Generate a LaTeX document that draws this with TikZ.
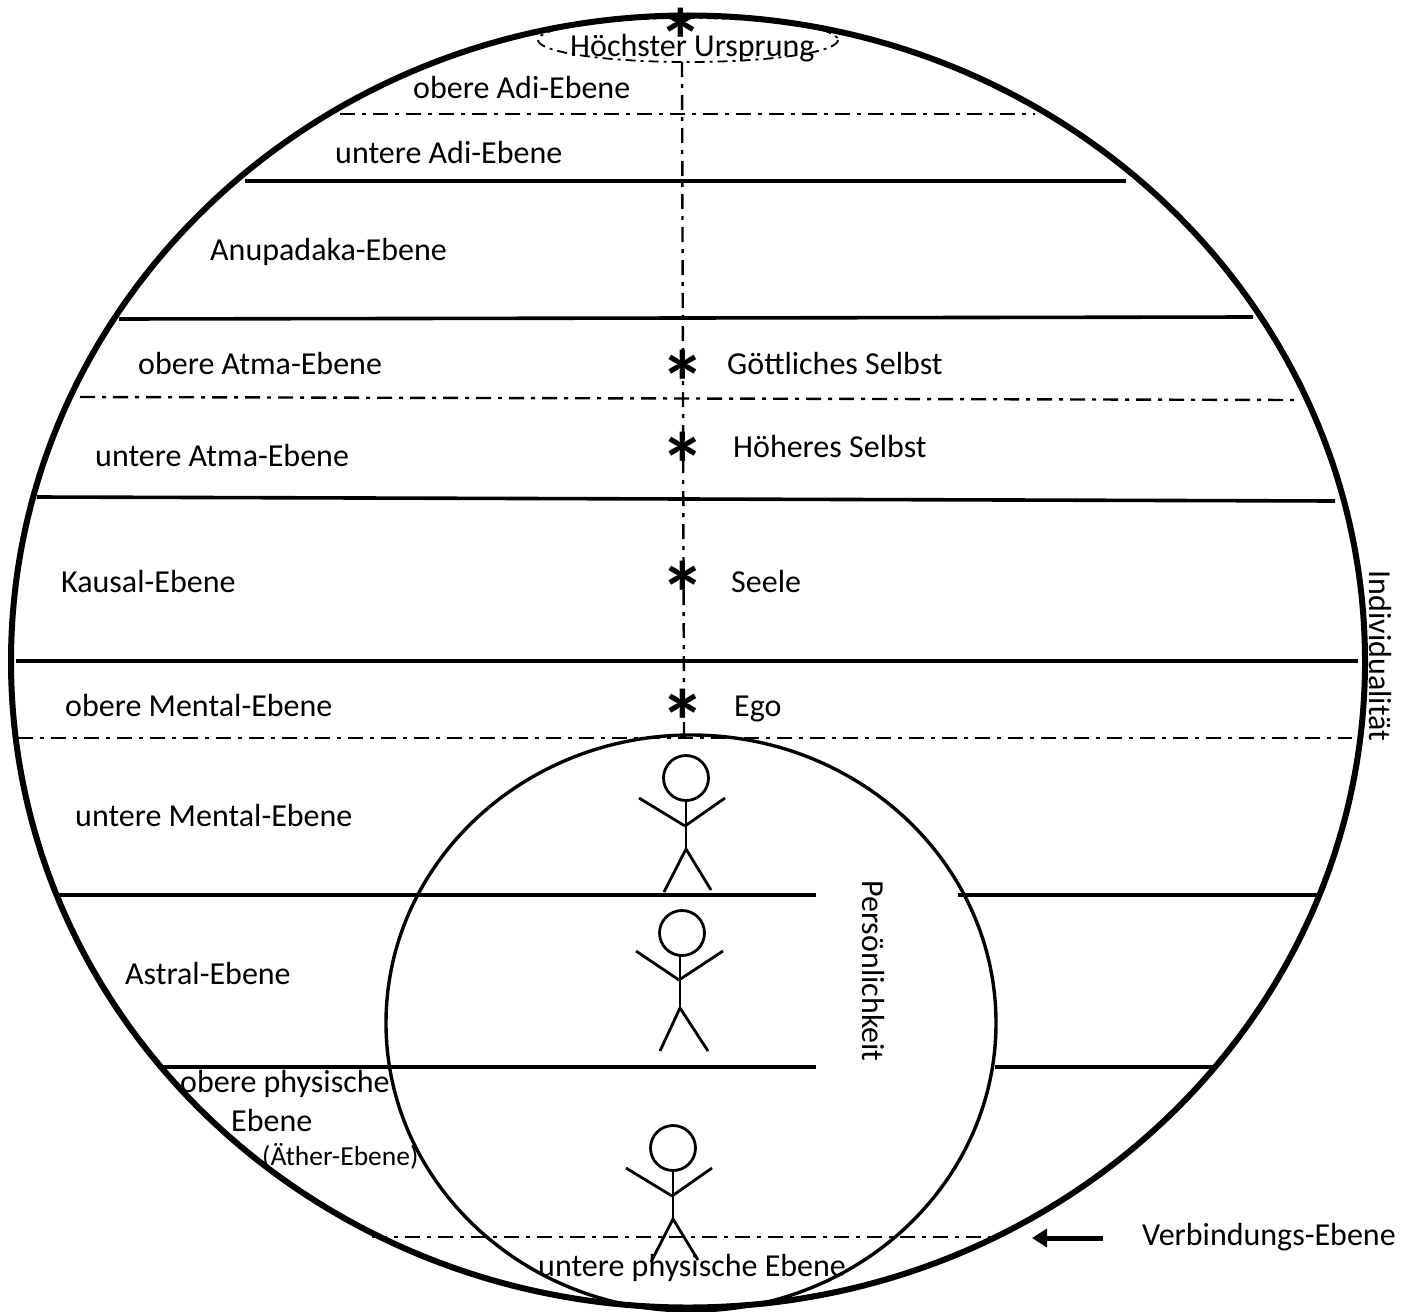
\documentclass[tikz,border=0pt]{standalone}
\usepackage{fontspec}
\setmainfont{Carlito}
\usetikzlibrary{arrows.meta}
\tikzset{
 lab/.style={font=\fontsize{32}{35}\selectfont,inner sep=0pt,anchor=base west},
 star/.style={font=\bfseries\fontsize{90}{90}\selectfont,inner sep=0pt,anchor=center},
 solidline/.style={line width=3.6pt},
 dd/.style={line width=2.4pt,dash pattern=on 15pt off 7pt on 4pt off 7pt},
 fig/.style={line width=2.8pt},
 pics/person/.style={code={
  \draw[fig] (0,0) circle[radius=22.5];
  \draw[fig] (0,22) -- (0,72);
  \draw[fig] (-47,20) -- (-1,48);
  \draw[fig] (-1,48) -- (39,20);
  \draw[fig] (-22,114) -- (0,71) -- (25,112);
 }},
 pics/persontall/.style={code={
  \draw[fig] (0,0) circle[radius=22.5];
  \draw[fig] (-2,22) -- (-2,75);
  \draw[fig] (-46,18) -- (-3,47);
  \draw[fig] (-3,47) -- (41,18);
  \draw[fig] (-22,118) -- (-2,75) -- (26,118);
 }}
}
\begin{document}
\begin{tikzpicture}[x=1pt,y=-1pt]
\useasboundingbox (0,0) rectangle (1415,1311);
% top ellipse
\draw[line width=1.8pt,dash pattern=on 10pt off 5pt on 3pt off 5pt] (688,40) ellipse[x radius=150,y radius=22];
% outer and inner circles
\draw[line width=6pt] (688,661.5) ellipse[x radius=677,y radius=646];
\draw[line width=3.4pt] (691,1023) ellipse[x radius=305,y radius=288];
% plane lines
\draw[solidline] (245,181) -- (1126,181);
\draw[solidline] (119,319) -- (1253,317);
\draw[solidline] (37,497) -- (1335,501);
\draw[solidline] (16,661) -- (1358,661);
\draw[solidline] (55,895) -- (816,895);
\draw[solidline] (958,895) -- (1322,895);
\draw[solidline] (158,1067) -- (816,1067);
\draw[solidline] (995,1067) -- (1213,1067);
% dash-dot lines
\draw[dd] (340,114) -- (1035,114);
\draw[dd] (80,397) -- (1295,400);
\draw[dd] (18,738) -- (1352,738);
\draw[dd] (372,1237) -- (995,1237);
\draw[dd] (682,62) -- (684,735);
% people
\pic at (686,778) {person};
\pic at (682,933) {persontall};
\pic at (673,1148) {person};
% arrow
\draw[line width=5pt,-{Triangle[length=15pt,width=18pt]}] (1103,1238) -- (1032,1238);
% asterisks
\node[star] (s0) at (681,40) {*};
\node[star] (s1) at (683,382) {*};
\node[star] (s2) at (683,464) {*};
\node[star] (s3) at (683,593) {*};
\node[star] (s4) at (683,721) {*};
% labels
\node[lab] (t0) at (570,57) {Höchster Ursprung};
\node[lab] (t1) at (413,99) {obere Adi-Ebene};
\node[lab] (t2) at (335,163) {untere Adi-Ebene};
\node[lab] (t3) at (210,260) {Anupadaka-Ebene};
\node[lab] (t4) at (138,374) {obere Atma-Ebene};
\node[lab] (t5) at (95,466) {untere Atma-Ebene};
\node[lab] (t6) at (61,592) {Kausal-Ebene};
\node[lab] (t7) at (65,716) {obere Mental-Ebene};
\node[lab] (t8) at (75,826) {untere Mental-Ebene};
\node[lab] (t9) at (125,984) {Astral-Ebene};
\node[lab] (t10) at (180,1092) {obere physische};
\node[lab] (t11) at (231,1131) {Ebene};
\node[lab,font=\fontsize{27.5}{30}\selectfont] (t12) at (262,1165) {(Äther-Ebene)};
\node[lab] (t13) at (538,1276) {untere physische Ebene};
\node[lab] (t14) at (727,374) {Göttliches Selbst};
\node[lab] (t15) at (733,457) {Höheres Selbst};
\node[lab] (t16) at (731,592) {Seele};
\node[lab] (t17) at (734,716) {Ego};
\node[lab] (t18) at (1142,1245) {Verbindungs-Ebene};
\node[lab,anchor=center,rotate=-90] (t19) at (1380,656) {Individualität};
\node[lab,anchor=center,rotate=-90] (t20) at (873,971) {Persönlichkeit};
\end{tikzpicture}
\end{document}
